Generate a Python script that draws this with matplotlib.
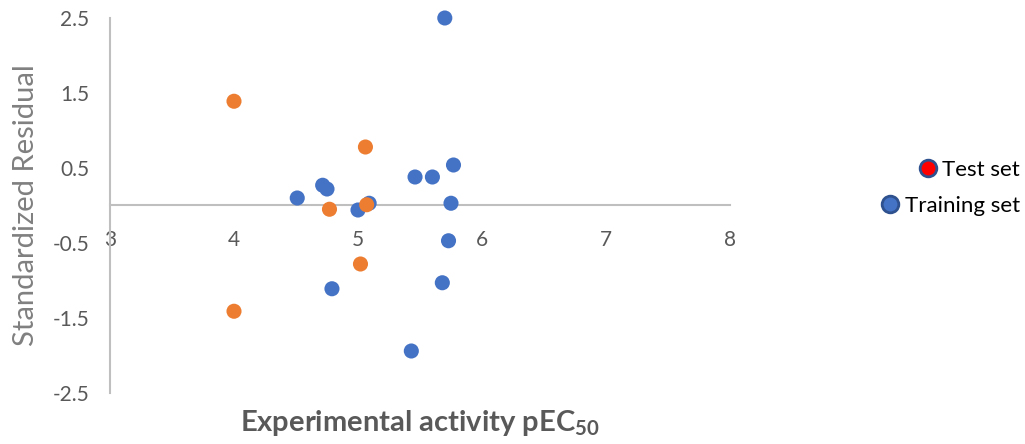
import matplotlib
matplotlib.use("Agg")
import matplotlib.pyplot as plt
from matplotlib.lines import Line2D

plt.rcParams['font.family'] = ['Lato', 'DejaVu Sans']
plt.rcParams['mathtext.fontset'] = 'custom'
plt.rcParams['mathtext.rm'] = 'Lato'
plt.rcParams['mathtext.bf'] = 'Lato:bold'

# Training set (blue)
train_x = [4.51, 4.715, 4.75, 5.00, 5.09, 5.46, 5.60, 5.77, 5.75, 5.70, 5.73, 5.68, 4.79, 5.43]
train_y = [0.10, 0.27, 0.22, -0.06, 0.03, 0.38, 0.38, 0.54, 0.03, 2.50, -0.47, -1.03, -1.11, -1.94]
# Test set (orange)
test_x = [4.0, 4.0, 5.06, 4.77, 5.02, 5.07]
test_y = [1.39, -1.41, 0.78, -0.05, -0.78, 0.01]

x_ticks = [3, 4, 5, 6, 7, 8]
y_ticks = [-2.5, -1.5, -0.5, 0.5, 1.5, 2.5]
legend_labels = ['Test set', 'Training set']

fig = plt.figure(figsize=(10.25, 4.44), dpi=100)
ax = fig.add_axes([110/1025, 51/444, 620/1025, 375/444])

ax.scatter(train_x, train_y, s=118, color='#4472C4', edgecolors='none', zorder=3, clip_on=False)
ax.scatter(test_x, test_y, s=118, color='#ED7D31', edgecolors='none', zorder=4, clip_on=False)

ax.set_xlim(3, 8)
ax.set_ylim(-2.5, 2.5)
ax.set_xticks(x_ticks)
ax.set_xticklabels([str(v) for v in x_ticks])
ax.set_yticks(y_ticks)
ax.set_yticklabels([f"{v:g}" for v in y_ticks])

for s in ['top', 'right']:
    ax.spines[s].set_visible(False)
ax.spines['bottom'].set_position(('data', 0))
ax.spines['left'].set_position(('data', 3))
for s in ['bottom', 'left']:
    ax.spines[s].set_color('#bfbfbf')
    ax.spines[s].set_linewidth(1.5)

ax.tick_params(axis='x', length=0, pad=18, labelsize=15, labelcolor='#595959')
ax.tick_params(axis='y', length=0, pad=15, labelsize=15, labelcolor='#595959')

ax.set_ylabel('Standardized Residual', fontsize=21, color='#808080')
ax.yaxis.set_label_coords(-0.115, 0.5)
ax.set_xlabel(r'Experimental activity pEC$_{\mathbf{50}}$', fontsize=21,
              fontweight='bold', color='#595959')
ax.xaxis.set_label_coords(0.5, -0.04)

face_colors = ['#FF0000', '#4472C4']
row_y = [0.617, 0.536]
for lab, fc, yy in zip(legend_labels, face_colors, row_y):
    h = Line2D([], [], linestyle='none', marker='o', markersize=12,
               markerfacecolor=fc, markeredgecolor='#2F528F', markeredgewidth=2)
    fig.legend([h], [lab], loc='center right', bbox_to_anchor=(0.995, yy),
               frameon=False, fontsize=16, handletextpad=0.15,
               handlelength=1.0, borderaxespad=0, borderpad=0,
               labelcolor='black')

fig.savefig('out.png', dpi=100)
